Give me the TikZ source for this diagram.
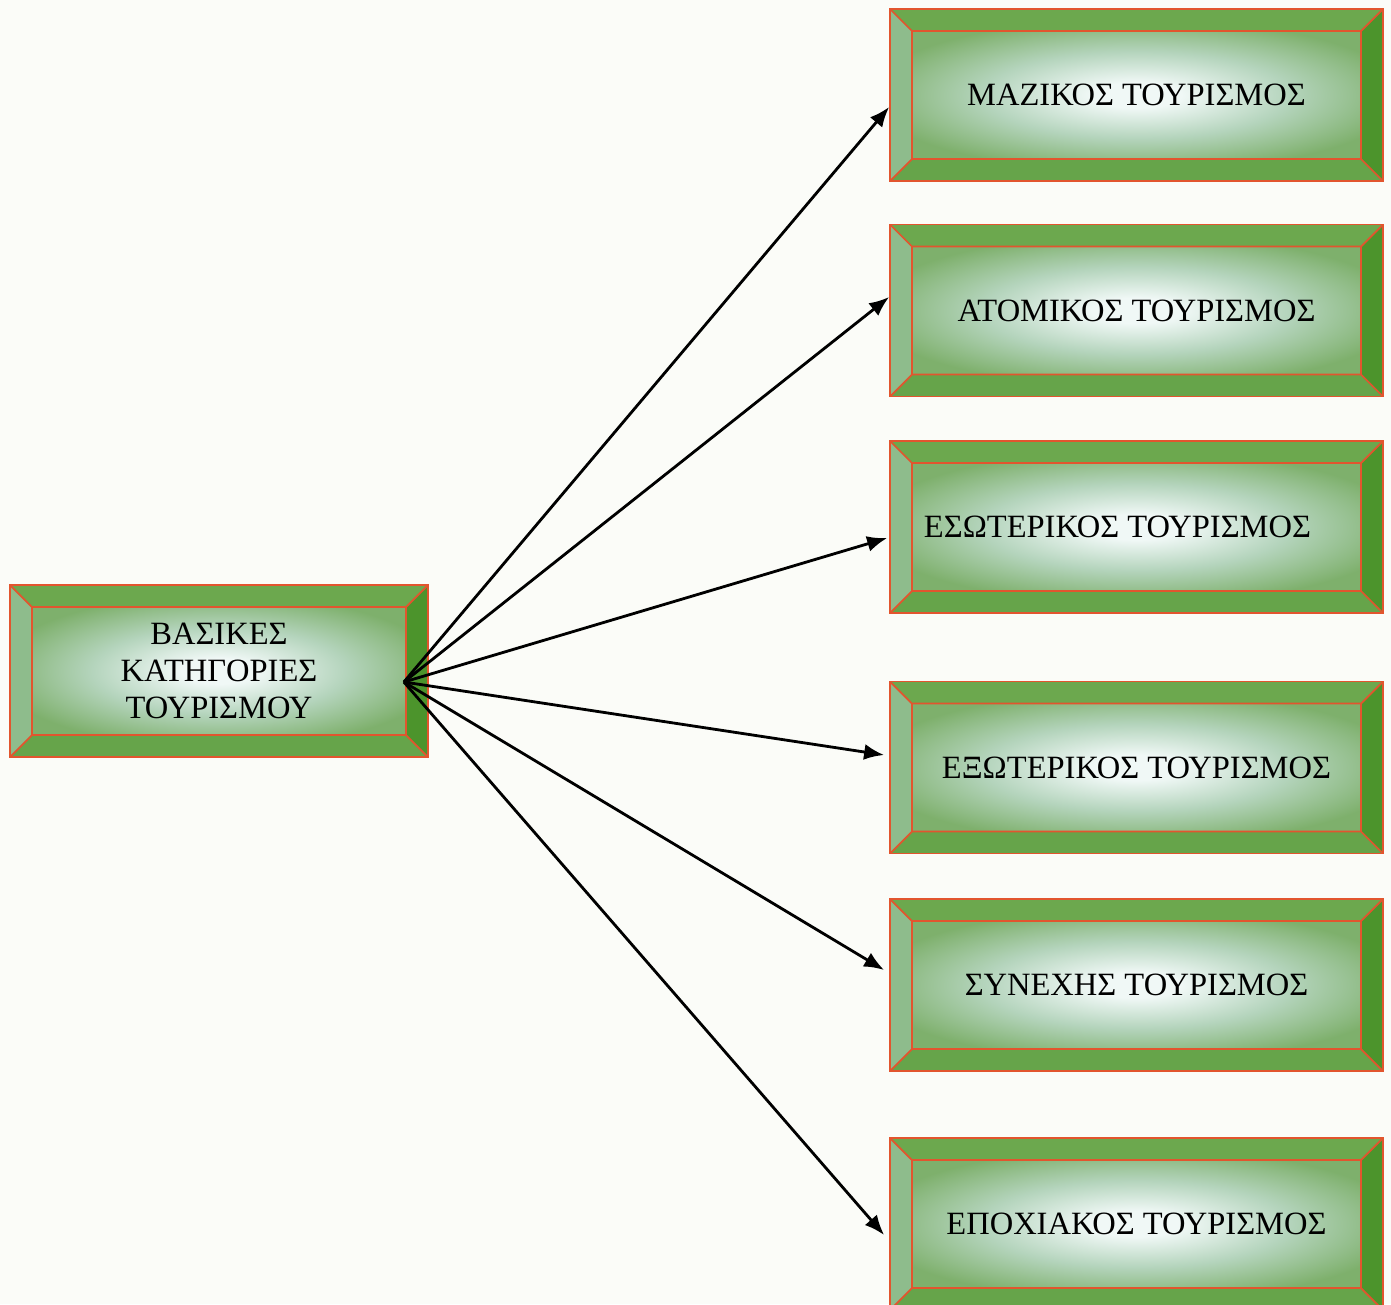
\documentclass[tikz,border=0pt]{standalone}
\usepackage{fontspec}
\setmainfont{Liberation Serif}
\usepackage{tikz}
\usetikzlibrary{arrows.meta}
\definecolor{paper}{HTML}{FBFCF8}
\definecolor{edgered}{HTML}{E2552E}
\definecolor{bevtop}{HTML}{6CA84E}
\definecolor{bevbot}{HTML}{66A44A}
\definecolor{bevleft}{HTML}{8EBC8C}
\definecolor{bevright}{HTML}{4C942C}
\definecolor{facegreen}{HTML}{7EB06C}
\definecolor{facemid}{HTML}{B4D4BC}
\definecolor{faceglow}{HTML}{F0F8F6}
\pgfdeclareradialshading{glow}{\pgfpoint{0bp}{0bp}}{color(0bp)=(faceglow); color(5bp)=(faceglow); color(17bp)=(facemid); color(30bp)=(facegreen); color(50bp)=(facegreen)}
\def\bev{0.22cm}
\tikzset{
tbox/.style={rectangle, minimum width=4.93cm, minimum height=1.72cm, inner sep=0pt,
	draw=edgered, line width=0.5pt, align=center, font=\fontsize{9.25}{10.6}\selectfont,
	path picture={
		\coordinate (sw) at (path picture bounding box.south west);
		\coordinate (ne) at (path picture bounding box.north east);
		\coordinate (nw) at (path picture bounding box.north west);
		\coordinate (se) at (path picture bounding box.south east);
		\coordinate (isw) at ([shift={(\bev,\bev)}]sw);
		\coordinate (ine) at ([shift={(-\bev,-\bev)}]ne);
		\coordinate (inw) at ([shift={(\bev,-\bev)}]nw);
		\coordinate (ise) at ([shift={(-\bev,\bev)}]se);
		%bevel frame
		\fill[bevtop] (nw) -- (ne) -- (ine) -- (inw) -- cycle;
		\fill[bevbot] (sw) -- (se) -- (ise) -- (isw) -- cycle;
		\fill[bevleft] (sw) -- (nw) -- (inw) -- (isw) -- cycle;
		\fill[bevright] (se) -- (ne) -- (ine) -- (ise) -- cycle;
		%glowing face
		\shade[shading=glow] (isw) rectangle (ine);
		\draw[edgered, line width=0.5pt] (isw) rectangle (ine)
			(sw) -- (isw) (se) -- (ise) (nw) -- (inw) (ne) -- (ine);
	}},
arr/.style={-{Latex[length=0.2cm,width=0.16cm]}, line width=0.8pt}
}
\begin{document}
\begin{tikzpicture}
\useasboundingbox (0,0) rectangle (13.91,-13.04);
\clip (0,0) rectangle (13.91,-13.04);
\fill[paper] (0,0) rectangle (13.91,-13.04);

\node[tbox, minimum width=4.18cm](base) at (2.19,-6.71) {ΒΑΣΙΚΕΣ\\ΚΑΤΗΓΟΡΙΕΣ\\ΤΟΥΡΙΣΜΟΥ};

%the six kinds, top to bottom
\foreach \n/\y/\t in {m1/0.95/{ΜΑΖΙΚΟΣ ΤΟΥΡΙΣΜΟΣ},
	m2/3.105/{ΑΤΟΜΙΚΟΣ ΤΟΥΡΙΣΜΟΣ},
	m3/5.27/{ΕΣΩΤΕΡΙΚΟΣ ΤΟΥΡΙΣΜΟΣ\hspace*{0.38cm}},
	m4/7.675/{ΕΞΩΤΕΡΙΚΟΣ ΤΟΥΡΙΣΜΟΣ},
	m5/9.85/{ΣΥΝΕΧΗΣ ΤΟΥΡΙΣΜΟΣ},
	m6/12.24/{ΕΠΟΧΙΑΚΟΣ ΤΟΥΡΙΣΜΟΣ}}
	\node[tbox](\n) at (11.365,-\y) {\t};

\coordinate(hub) at ([shift={(-0.25,-0.11)}]base.east);

%arrows from the hub, tips a little off the west anchors
\foreach \n/\dx/\dy in {m1/0/-0.12, m2/0/0.135, m3/-0.02/-0.11, m4/-0.05/0.125, m5/-0.05/0.15, m6/-0.05/-0.11}
	\draw[arr] (hub) -- ([shift={(\dx,\dy)}]\n.west);
\end{tikzpicture}
\end{document}
